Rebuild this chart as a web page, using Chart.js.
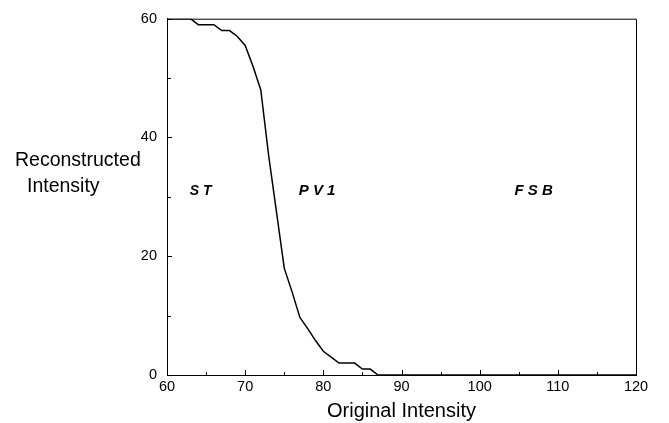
<!DOCTYPE html>
<html>
<head>
<meta charset="utf-8">
<script src="https://cdn.jsdelivr.net/npm/chart.js@4/dist/chart.umd.min.js"></script>
<style>
html,body{margin:0;padding:0;background:#fff;}
#wrap{width:669px;height:423px;}
</style>
</head>
<body>
<div id="wrap"><canvas id="c" width="669" height="423"></canvas></div>
<script>
// ---- data ----
const originalIntensity = [60,61,62,63,64,65,66,67,68,69,70,71,72,73,74,75,76,77,78,79,80,81,82,83,84,85,86,87,120];
const reconstructedIntensity = [60,60,60,60,59,59,59,58,58,57,55.5,52,48,37,27.5,18,14,9.7,7.8,5.8,4,3,2,2,2,1,1,0,0];
const xMajorTicks = [60,70,80,90,100,110,120];
const xMinorTicks = [65,75,85,95,105,115];
const yMajorTicks = [0,20,40,60];
const yMinorTicks = [10,30,50];
const regionLabels = ['S T','P V 1','F S B'];
const regionLabelX = [64.3,79.2,106.9];
const regionLabelY = [31,31,31];
const xTitle = 'Original Intensity';
const yTitleLines = ['Reconstructed','Intensity'];

const FONT = '"Liberation Sans", Arial, Helvetica, sans-serif';

const points = originalIntensity.map((x,i)=>({x:x,y:reconstructedIntensity[i]}));

const decor = {
  id:'decor',
  afterDraw(chart){
    const ctx = chart.ctx, a = chart.chartArea;
    const xs = chart.scales.x, ys = chart.scales.y;
    ctx.save();
    ctx.strokeStyle = '#000';
    ctx.lineWidth = 1;
    // box: top and right
    ctx.beginPath();
    ctx.moveTo(a.left, a.top+0.5); ctx.lineTo(a.right+0.5, a.top+0.5);
    ctx.lineTo(a.right+0.5, a.bottom);
    ctx.stroke();
    // inward ticks
    ctx.beginPath();
    xMajorTicks.forEach(v=>{const p=Math.round(xs.getPixelForValue(v))+0.5; ctx.moveTo(p,a.bottom); ctx.lineTo(p,a.bottom-5);});
    xMinorTicks.forEach(v=>{const p=Math.round(xs.getPixelForValue(v))+0.5; ctx.moveTo(p,a.bottom); ctx.lineTo(p,a.bottom-3);});
    yMajorTicks.forEach(v=>{const p=Math.round(ys.getPixelForValue(v))+0.5; ctx.moveTo(a.left,p); ctx.lineTo(a.left+5,p);});
    yMinorTicks.forEach(v=>{const p=Math.round(ys.getPixelForValue(v))+0.5; ctx.moveTo(a.left,p); ctx.lineTo(a.left+4,p);});
    ctx.stroke();
    // region labels
    ctx.fillStyle = '#000';
    ctx.textAlign = 'center';
    ctx.textBaseline = 'middle';
    regionLabels.forEach((t,i)=>{
      ctx.font = 'italic bold ' + (i===0?14:15) + 'px ' + FONT;
      ctx.fillText(t, xs.getPixelForValue(regionLabelX[i]), ys.getPixelForValue(regionLabelY[i]));
    });
    // horizontal y title
    ctx.font = '19.5px ' + FONT;
    ctx.textAlign = 'left';
    ctx.textBaseline = 'alphabetic';
    ctx.fillText(yTitleLines[0], 15, 166);
    ctx.fillText(yTitleLines[1], 27, 192);
    ctx.restore();
  }
};

new Chart(document.getElementById('c'), {
  type:'line',
  data:{datasets:[{data:points, borderColor:'#000', borderWidth:1.5, pointRadius:0, tension:0, fill:false}]},
  options:{
    responsive:false, animation:false,
    layout:{padding:{top:14,right:33,left:0,bottom:0}},
    plugins:{legend:{display:false}, tooltip:{enabled:false}},
    scales:{
      x:{type:'linear', min:60, max:120,
        afterBuildTicks(s){ s.ticks = xMajorTicks.map(v=>({value:v})); },
        ticks:{font:{family:FONT,size:14.5}, color:'#000', padding:3, maxRotation:0},
        grid:{display:false, drawTicks:false},
        border:{display:true, color:'#000', width:1},
        title:{display:true, text:xTitle, font:{family:FONT,size:20}, color:'#000', padding:{top:0,bottom:0}},
        afterFit(s){ s.height = 48; }
      },
      y:{type:'linear', min:0, max:60,
        afterBuildTicks(s){ s.ticks = yMajorTicks.map(v=>({value:v})); },
        ticks:{font:{family:FONT,size:14.5}, color:'#000', padding:10},
        grid:{display:false, drawTicks:false},
        border:{display:true, color:'#000', width:1},
        afterFit(s){ s.width = 167; }
      }
    }
  },
  plugins:[decor]
});
</script>
</body>
</html>
